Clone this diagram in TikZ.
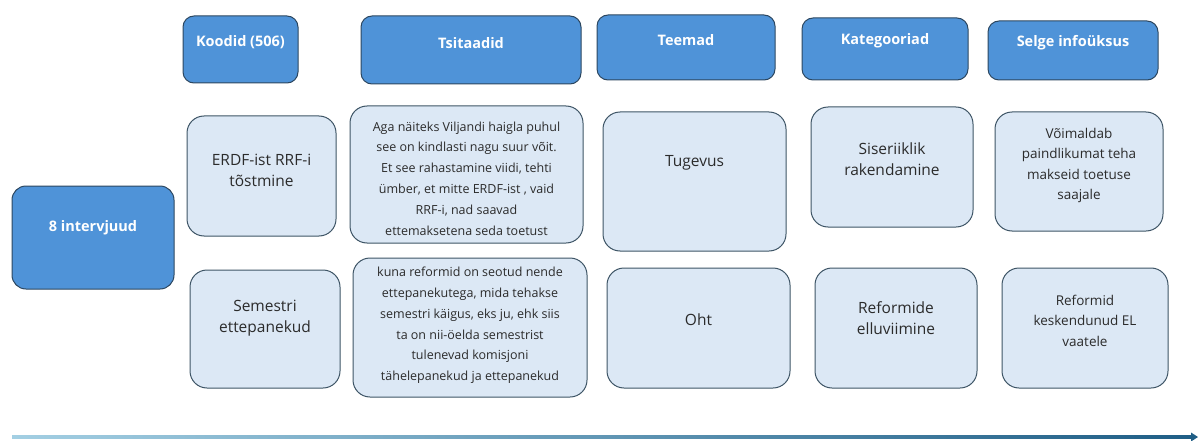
\documentclass[tikz,border=0pt]{standalone}
\usepackage{fontspec}
\setmainfont{Open Sans}
\definecolor{hdrfill}{HTML}{4F93D8}
\definecolor{hdrline}{HTML}{2C4760}
\definecolor{cellfill}{HTML}{DCE8F5}
\definecolor{cellline}{HTML}{3E5566}
\definecolor{txtgray}{HTML}{2B2B2B}
\definecolor{arrowlight}{HTML}{A3CFE3}
\definecolor{arrowdark}{HTML}{1F5E86}
\tikzset{
  hdrbox/.style={draw=hdrline, line width=1pt, fill=hdrfill, rounded corners=11pt, inner sep=0pt},
  hdrtext/.style={text=white, font=\bfseries\fontsize{14.5}{17}\selectfont, align=center, inner sep=0pt},
  cellbox/.style={draw=cellline, line width=1pt, fill=cellfill, rounded corners=17pt, inner sep=0pt},
  celltext/.style={text=txtgray, font=\fontsize{15.5}{21}\selectfont, align=center, inner sep=0pt},
  quotetext/.style={text=txtgray, font=\fontsize{12.5}{20.8}\selectfont, align=center, inner sep=0pt},
  smalltext/.style={text=txtgray, font=\fontsize{13.5}{20.5}\selectfont, align=center, inner sep=0pt},
}
\begin{document}
\begin{tikzpicture}[x=1pt,y=-1pt]
\useasboundingbox (0,0) rectangle (1198,441);
% header boxes
\path[hdrbox] (183,16) rectangle (298,83);
\node[hdrtext] (hkt) at (240.5,42) {Koodid (506)};
\path[hdrbox] (361,16) rectangle (581,84);
\node[hdrtext] (htt) at (471,43) {Tsitaadid};
\path[hdrbox] (597,15) rectangle (775,80);
\node[hdrtext] (hte) at (686,40) {Teemad};
\path[hdrbox] (802,18) rectangle (968,80);
\node[hdrtext] (hka) at (885,41) {Kategooriad};
\path[hdrbox] (988,21) rectangle (1158,80);
\node[hdrtext] (hse) at (1073,43) {Selge infoüksus};
% left box
\path[hdrbox, rounded corners=14pt] (12,186) rectangle (174,289);
\node[hdrtext] (int) at (93,228) {8 intervjuud};
% row 1
\path[cellbox] (187,116) rectangle (336,236);
\node[celltext] (c11) at (261.5,170.5) {ERDF-ist RRF-i\\tõstmine};
\path[cellbox] (350,106) rectangle (583,243);
\node[quotetext] (c12) at (466.5,178.5) {Aga näiteks Viljandi haigla puhul\\see on kindlasti nagu suur võit.\\Et see rahastamine viidi, tehti\\ümber, et mitte ERDF-ist , vaid\\RRF-i, nad saavad\\ettemaksetena seda toetust};
\path[cellbox] (603,112) rectangle (786,251);
\node[celltext] (c13) at (694.5,163) {Tugevus};
\path[cellbox] (811,107) rectangle (973,227);
\node[celltext] (c14) at (892,159) {Siseriiklik\\rakendamine};
\path[cellbox] (995,112) rectangle (1163,231);
\node[smalltext] (c15) at (1079,165.5) {Võimaldab\\paindlikumat teha\\makseid toetuse\\saajale};
% row 2
\path[cellbox] (190,270) rectangle (340,388);
\node[celltext] (c21) at (265,318.5) {Semestri\\ettepanekud};
\path[cellbox] (353,258) rectangle (587,397);
\node[quotetext] (c22) at (470,325.5) {kuna reformid on seotud nende\\ettepanekutega, mida tehakse\\semestri käigus, eks ju, ehk siis\\ta on nii-öelda semestrist\\tulenevad komisjoni\\tähelepanekud ja ettepanekud};
\path[cellbox] (607,268) rectangle (790,388);
\node[celltext] (c23) at (698.5,320) {Oht};
\path[cellbox] (815,268) rectangle (977,388);
\node[celltext] (c24) at (896,318) {Reformide\\elluviimine};
\path[cellbox] (1002,268) rectangle (1168,388);
\node[smalltext] (c25) at (1085,320.5) {Reformid\\keskendunud EL\\vaatele};
% bottom arrow
\coordinate (as) at (12,437);
\coordinate (ae) at (1191,437);
\coordinate (tip) at (1198,437);
\shade[left color=arrowlight, right color=arrowdark] ([yshift=-1.6pt]as) rectangle ([yshift=1.6pt]ae);
\fill[arrowdark] ([yshift=-4.5pt]ae) -- (tip) -- ([yshift=4.5pt]ae) -- cycle;
\end{tikzpicture}
\end{document}
